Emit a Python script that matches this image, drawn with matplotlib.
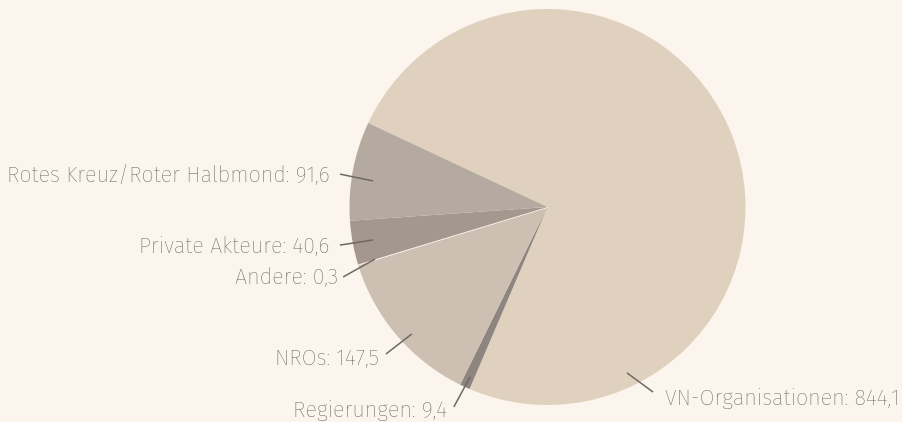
import matplotlib
matplotlib.use("Agg")
import matplotlib.pyplot as plt
import numpy as np

categories = ["VN-Organisationen", "Regierungen", "NROs", "Andere",
              "Private Akteure", "Rotes Kreuz/Roter Halbmond"]
values = [844.1, 9.4, 147.5, 0.3, 40.6, 91.6]
value_labels = ["844,1", "9,4", "147,5", "0,3", "40,6", "91,6"]
colors = ["#dfd1be", "#8f8580", "#cdc0b3", "#f6f0ea", "#a3978e", "#b5aaa0"]

bg = "#fcf5ee"
text_color = "#5c5550"
line_color = "#6f6864"

# label layout (layout only): inner angle, inner radius factor,
# outer angle, outer radius factor, text gap (px), text shift down (px)
label_layout = {
    "VN-Organisationen": (-64.4, 0.929, -60.3, 1.076, 12, 5),
    "Regierungen": (-114.5, 0.943, -115.1, 1.115, 7, 2),
    "NROs": (223.1, 0.938, 222.3, 1.103, 7, 3),
    "Andere": (196.8, 0.91, 198.9, 1.091, 5, -1),
    "Private Akteure": (190.7, 0.897, 190.4, 1.066, 10, 0),
    "Rotes Kreuz/Roter Halbmond": (171.5, 0.891, 171.0, 1.061, 10, 0.5),
}

W, H = 903, 422
fig = plt.figure(figsize=(W / 100, H / 100), dpi=100, facecolor=bg)
ax = fig.add_axes([0, 0, 1, 1])
ax.set_facecolor(bg)

cx, cy, R = 547.5, 215, 198
wedges, _ = ax.pie(values, startangle=154.9, counterclock=False,
                   center=(cx, cy), radius=R, colors=colors,
                   wedgeprops=dict(linewidth=0))
wedges[3].set_edgecolor(colors[3])
wedges[3].set_linewidth(0.9)

ax.set_xlim(0, W)
ax.set_ylim(0, H)
ax.set_aspect("equal")
ax.axis("off")

for w, cat, vl in zip(wedges, categories, value_labels):
    a_in, r_in, a_out, r_out, gap, dy = label_layout[cat]
    ai, ao = np.deg2rad(a_in), np.deg2rad(a_out)
    x0, y0 = cx + r_in * R * np.cos(ai), cy + r_in * R * np.sin(ai)
    x1, y1 = cx + r_out * R * np.cos(ao), cy + r_out * R * np.sin(ao)
    ax.plot([x0, x1], [y0, y1], color=line_color, lw=1.1, solid_capstyle="butt")
    if np.cos(ao) >= 0:
        tx, ha = x1 + gap, "left"
    else:
        tx, ha = x1 - gap, "right"
    ax.text(tx, y1 - 1.5 - dy, f"{cat}: {vl}", ha=ha, va="center", fontsize=15.6,
            fontweight="light", color=text_color,
            family=["Fira Sans", "Open Sans", "DejaVu Sans"])

fig.savefig("out.png", dpi=100, facecolor=bg)
